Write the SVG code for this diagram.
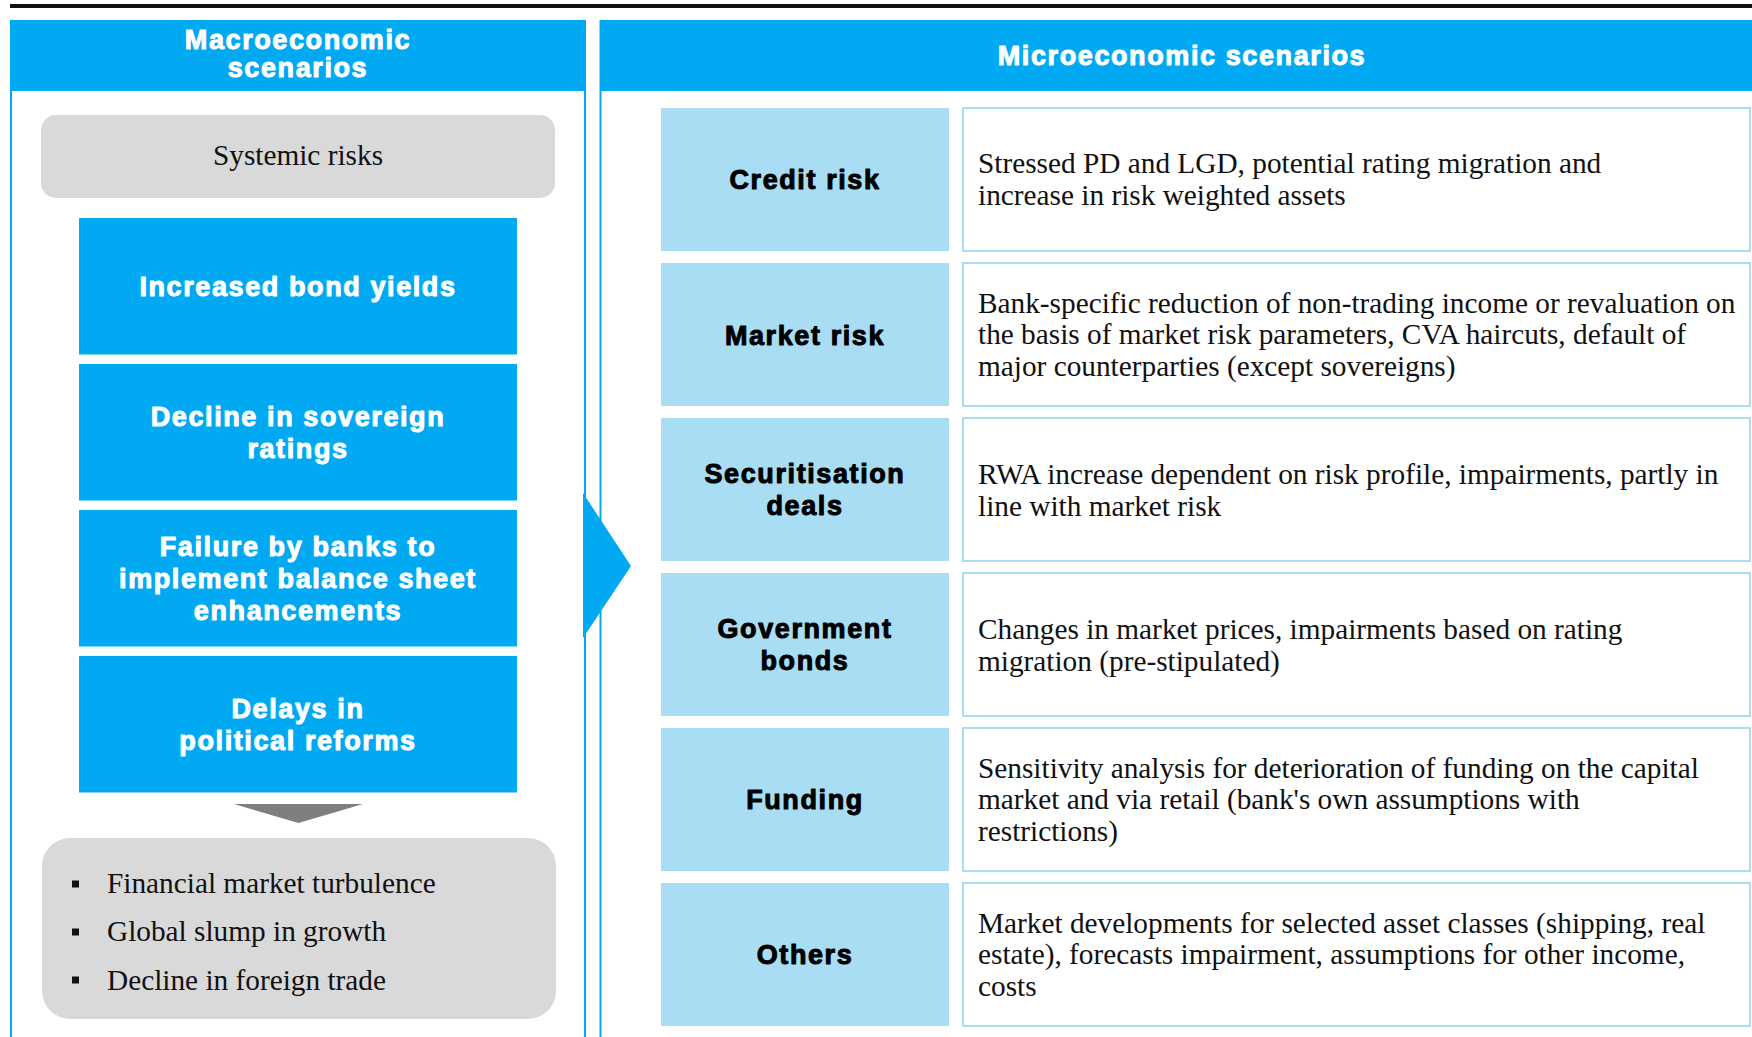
<svg xmlns="http://www.w3.org/2000/svg" width="1752" height="1037" viewBox="0 0 1752 1037">
  <style>
    .blue{fill:#00a9f1}
    .light{fill:#a9ddf3}
    .grey{fill:#d9d9d9}
    .desc{fill:#ffffff;stroke:#a9ddf3;stroke-width:2}
    .frame{fill:none;stroke:#00a9f1;stroke-width:2}
    .wt{font-family:"Liberation Sans",Arial,Helvetica,sans-serif;font-weight:bold;font-size:27px;letter-spacing:1.6px;text-anchor:middle;fill:#ffffff;stroke:#ffffff;stroke-width:1;stroke-linejoin:round}
    .bt{font-family:"Liberation Sans",Arial,Helvetica,sans-serif;font-weight:bold;font-size:27px;letter-spacing:1.6px;text-anchor:middle;fill:#000000;stroke:#000000;stroke-width:1;stroke-linejoin:round}
    .st{font-family:"Liberation Serif","Times New Roman",serif;font-size:29.3px;fill:#111111}
  </style>

  <!-- rule across the top -->
  <rect x="10" y="4" width="1742" height="4" fill="#111111"/>

  <!-- panel outlines -->
  <path class="frame" d="M11,20 V1037 M585,20 V1037 M600.5,20 V1037"/>

  <!-- left panel: macroeconomic scenarios -->
  <g id="macro-header">
    <rect class="blue" x="10" y="20" width="576" height="71"/>
    <text class="wt" x="298" y="48.5">Macroeconomic</text>
    <text class="wt" x="298" y="77">scenarios</text>
  </g>

  <g id="systemic-risks">
    <rect class="grey" x="41" y="115" width="514" height="83" rx="15"/>
    <text class="st" x="298" y="165" text-anchor="middle">Systemic risks</text>
  </g>

  <g id="bond-yields">
    <rect class="blue" x="79" y="218" width="438" height="136.5"/>
    <text class="wt" x="298" y="295.75">Increased bond yields</text>
  </g>

  <g id="sovereign-ratings">
    <rect class="blue" x="79" y="364" width="438" height="136.5"/>
    <text class="wt" x="298" y="426">Decline in sovereign</text>
    <text class="wt" x="298" y="457.5">ratings</text>
  </g>

  <g id="balance-sheet">
    <rect class="blue" x="79" y="510" width="438" height="136.5"/>
    <text class="wt" x="298" y="556">Failure by banks to</text>
    <text class="wt" x="298" y="587.75">implement balance sheet</text>
    <text class="wt" x="298" y="619.5">enhancements</text>
  </g>

  <g id="political-reforms">
    <rect class="blue" x="79" y="656" width="438" height="136.5"/>
    <text class="wt" x="298" y="718">Delays in</text>
    <text class="wt" x="298" y="749.5">political reforms</text>
  </g>

  <g id="consequences">
    <rect class="grey" x="42" y="838" width="514" height="181" rx="28"/>
    <rect x="72" y="880.5" width="7" height="7" fill="#111111"/>
    <rect x="72" y="928.5" width="7" height="7" fill="#111111"/>
    <rect x="72" y="976.5" width="7" height="7" fill="#111111"/>
    <text class="st" x="107" y="893">Financial market turbulence</text>
    <text class="st" x="107" y="941">Global slump in growth</text>
    <text class="st" x="107" y="989.5">Decline in foreign trade</text>
  </g>

  <!-- right panel: microeconomic scenarios -->
  <g id="micro-header">
    <rect class="blue" x="600" y="20" width="1152" height="71"/>
    <text class="wt" x="1182" y="64.5">Microeconomic scenarios</text>
  </g>

  <g id="credit-risk">
    <rect class="light" x="661" y="108" width="288" height="143"/>
    <text class="bt" x="805" y="189">Credit risk</text>
    <rect class="desc" x="963" y="108" width="787" height="143"/>
    <text class="st" x="978" y="173">Stressed PD and LGD, potential rating migration and</text>
    <text class="st" x="978" y="205">increase in risk weighted assets</text>
  </g>

  <g id="market-risk">
    <rect class="light" x="661" y="263" width="288" height="143"/>
    <text class="bt" x="805" y="345">Market risk</text>
    <rect class="desc" x="963" y="263" width="787" height="143"/>
    <text class="st" x="978" y="312.5">Bank-specific reduction of non-trading income or revaluation on</text>
    <text class="st" x="978" y="344">the basis of market risk parameters, CVA haircuts, default of</text>
    <text class="st" x="978" y="375.5">major counterparties (except sovereigns)</text>
  </g>

  <g id="securitisation">
    <rect class="light" x="661" y="418" width="288" height="143"/>
    <text class="bt" x="805" y="483">Securitisation</text>
    <text class="bt" x="805" y="515">deals</text>
    <rect class="desc" x="963" y="418" width="787" height="143"/>
    <text class="st" x="978" y="484">RWA increase dependent on risk profile, impairments, partly in</text>
    <text class="st" x="978" y="516">line with market risk</text>
  </g>

  <g id="government-bonds">
    <rect class="light" x="661" y="573" width="288" height="143"/>
    <text class="bt" x="805" y="638">Government</text>
    <text class="bt" x="805" y="670">bonds</text>
    <rect class="desc" x="963" y="573" width="787" height="143"/>
    <text class="st" x="978" y="639">Changes in market prices, impairments based on rating</text>
    <text class="st" x="978" y="671">migration (pre-stipulated)</text>
  </g>

  <g id="funding">
    <rect class="light" x="661" y="728" width="288" height="143"/>
    <text class="bt" x="805" y="809">Funding</text>
    <rect class="desc" x="963" y="728" width="787" height="143"/>
    <text class="st" x="978" y="777.5">Sensitivity analysis for deterioration of funding on the capital</text>
    <text class="st" x="978" y="809">market and via retail (bank's own assumptions with</text>
    <text class="st" x="978" y="840.5">restrictions)</text>
  </g>

  <g id="others">
    <rect class="light" x="661" y="883" width="288" height="143"/>
    <text class="bt" x="805" y="964">Others</text>
    <rect class="desc" x="963" y="883" width="787" height="143"/>
    <text class="st" x="978" y="932.5">Market developments for selected asset classes (shipping, real</text>
    <text class="st" x="978" y="964">estate), forecasts impairment, assumptions for other income,</text>
    <text class="st" x="978" y="995.5">costs</text>
  </g>

  <!-- arrows -->
  <g id="connectors">
    <polygon points="234,804 363,804 298.5,823" fill="#7f7f7f"/>
    <polygon points="583,493 631,566 583,638" fill="#00a9f1"/>
  </g>
</svg>
